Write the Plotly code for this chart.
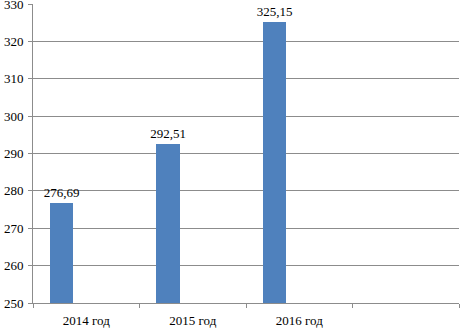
import plotly.graph_objects as go

categories = ["2014 год", "2015 год", "2016 год", " "]
values = [276.69, 292.51, 325.15, None]
y_ticks = [250, 260, 270, 280, 290, 300, 310, 320, 330]

font_family = "Liberation Serif, Times New Roman, serif"

fig = go.Figure()
fig.add_trace(go.Bar(
    x=categories,
    y=values,
    marker=dict(color="#4F81BD", line=dict(width=0)),
    width=0.225,
    offset=-0.345,
    text=[f"{v:.2f}".replace(".", ",") if v is not None else "" for v in values],
    textposition="outside",
    constraintext="none",
    cliponaxis=False,
    textfont=dict(family=font_family, size=13, color="#000000"),
    showlegend=False,
    hoverinfo="skip",
))

fig.update_layout(
    width=461,
    height=329,
    margin=dict(l=33, r=2, t=4, b=26, autoexpand=False),
    paper_bgcolor="white",
    plot_bgcolor="white",
    font=dict(family=font_family, size=13, color="#000000"),
    bargap=0,
)

fig.update_xaxes(
    type="category",
    range=[-0.5, 3.5],
    tickson="boundaries",
    ticks="outside",
    ticklen=4,
    tickcolor="#8c8c8c",
    showline=True,
    linecolor="#8c8c8c",
    linewidth=1,
    showgrid=False,
    automargin=False,
    ticklabelstandoff=5,
    tickfont=dict(family=font_family, size=13, color="#000000"),
)

fig.update_yaxes(
    range=[250, 330],
    tickvals=y_ticks,
    ticks="outside",
    ticklen=4,
    tickcolor="#8c8c8c",
    showline=True,
    linecolor="#8c8c8c",
    linewidth=1,
    showgrid=True,
    gridcolor="#8c8c8c",
    gridwidth=1,
    zeroline=False,
    automargin=False,
    ticklabelstandoff=2,
    ticklabeloverflow="allow",
    tickfont=dict(family=font_family, size=13, color="#000000"),
)

fig.write_html(
    "out.html",
    config={"displayModeBar": False},
    post_script="document.body.style.margin='0';document.body.style.padding='0';document.body.style.overflow='hidden';",
)
